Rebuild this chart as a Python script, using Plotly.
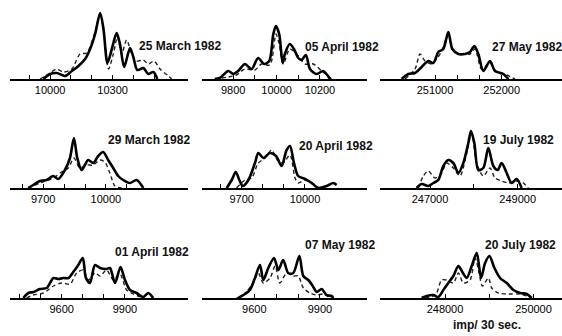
import plotly.graph_objects as go

W, H = 562, 336

# ---------- data (x: imp/30 sec, y: relative frequency, arbitrary units) ----------
titles = ["25 March 1982", "05 April 1982", "27 May 1982",
          "29 March 1982", "20 April 1982", "19 July 1982",
          "01 April 1982", "07 May 1982", "20 July 1982"]

p1_solid_x = [9968, 10000, 10032, 10072, 10104, 10136, 10168, 10192, 10216, 10240, 10256, 10275, 10296, 10319, 10335, 10355, 10383, 10399, 10418, 10447, 10471, 10495, 10514]
p1_solid_y = [0, 5, 6, 3, 8, 13, 20, 30, 45, 66, 50, 16, 30, 46, 35, 12, 31, 22, 9, 11, 5, 7, 0]
p1_dash_x = [9952, 10000, 10032, 10064, 10104, 10144, 10176, 10208, 10240, 10259, 10280, 10303, 10323, 10343, 10367, 10391, 10415, 10447, 10471, 10498, 10527, 10567, 10583]
p1_dash_y = [0, 6, 10, 7, 10, 25, 26, 42, 64, 45, 10, 25, 42, 25, 39, 25, 18, 19, 15, 18, 10, 3, 0]

p2_solid_x = [9715, 9738, 9777, 9800, 9823, 9854, 9885, 9915, 9942, 9966, 9985, 9997, 10012, 10028, 10038, 10061, 10080, 10100, 10115, 10135, 10154, 10185, 10215, 10246]
p2_solid_y = [0, 1, 8, 5, 8, 15, 10, 21, 15, 18, 45, 53, 45, 16, 25, 35, 30, 21, 19, 24, 10, 5, 8, 0]
p2_dash_x = [9715, 9777, 9815, 9854, 9900, 9931, 9969, 9997, 10012, 10031, 10061, 10092, 10131, 10169, 10208, 10254]
p2_dash_y = [0, 2, 4, 10, 9, 15, 14, 45, 35, 15, 30, 25, 15, 15, 8, 0]

p3_solid_x = [250500, 250600, 250700, 250800, 250900, 250975, 251050, 251125, 251200, 251260, 251350, 251450, 251525, 251590, 251650, 251725, 251825, 251900, 252025, 252100]
p3_solid_y = [0, 5, 6, 12, 18, 16, 27, 30, 47, 30, 25, 25, 27, 33, 25, 8, 18, 8, 5, 0]
p3_dash_x = [250550, 250700, 250775, 250850, 250950, 251025, 251100, 251200, 251275, 251400, 251525, 251600, 251700, 251825, 251925, 252075, 252200]
p3_dash_y = [0, 10, 25, 18, 15, 20, 28, 44, 28, 25, 25, 30, 10, 16, 7, 4, 0]

p4_solid_x = [9628, 9652, 9684, 9716, 9748, 9772, 9804, 9828, 9847, 9863, 9884, 9915, 9939, 9963, 9987, 10011, 10035, 10059, 10083, 10115, 10147, 10179]
p4_solid_y = [0, 3, 7, 8, 12, 9, 18, 30, 50, 30, 18, 28, 25, 32, 36, 28, 20, 12, 8, 5, 8, 0]
p4_dash_x = [9628, 9684, 9748, 9788, 9820, 9847, 9875, 9907, 9939, 9971, 9995, 10019, 10043, 10075]
p4_dash_y = [0, 5, 10, 16, 20, 30, 20, 23, 23, 28, 26, 15, 2, 0]

p5_solid_x = [9629, 9653, 9672, 9689, 9705, 9732, 9763, 9779, 9803, 9834, 9863, 9889, 9913, 9929, 9948, 9968, 10000, 10032, 10063, 10103, 10134, 10150]
p5_solid_y = [0, 8, 16, 8, 2, 8, 25, 35, 30, 35, 32, 22, 38, 42, 25, 12, 9, 5, 0, 2, 5, 3]
p5_dash_x = [9676, 9716, 9747, 9779, 9811, 9842, 9869, 9897, 9929, 9953, 9968, 10000, 10040, 10063]
p5_dash_y = [0, 8, 10, 25, 30, 38, 28, 25, 33, 10, 5, 8, 4, 0]

p6_solid_x = [246696, 246810, 246962, 247076, 247190, 247304, 247418, 247532, 247646, 247760, 247874, 247935, 248011, 248102, 248216, 248330, 248444, 248543, 248634, 248748, 248862, 248976, 249090]
p6_solid_y = [0, 4, 2, 5, 8, 22, 28, 25, 15, 25, 45, 57, 45, 18, 20, 40, 22, 18, 25, 15, 5, 9, 0]
p6_dash_x = [246734, 246848, 246962, 247114, 247266, 247380, 247532, 247684, 247813, 247950, 248064, 248216, 248368, 248482, 248634, 248786, 249014, 249128, 249242]
p6_dash_y = [0, 12, 17, 10, 15, 25, 20, 12, 30, 55, 25, 12, 20, 10, 7, 5, 7, 5, 0]

p7_solid_x = [9418, 9442, 9466, 9497, 9529, 9561, 9584, 9608, 9632, 9655, 9679, 9700, 9715, 9734, 9758, 9782, 9813, 9829, 9853, 9879, 9900, 9924, 9955, 9987, 10011, 10034]
p7_solid_y = [0, 5, 6, 9, 10, 20, 19, 20, 20, 26, 33, 40, 20, 15, 33, 30, 29, 30, 15, 31, 18, 8, 5, 1, 5, 0]
p7_dash_x = [9434, 9466, 9513, 9561, 9600, 9640, 9671, 9703, 9726, 9758, 9782, 9813, 9845, 9876, 9908, 9940, 9987]
p7_dash_y = [0, 3, 5, 12, 15, 14, 25, 28, 18, 25, 22, 28, 18, 24, 8, 4, 0]

p8_solid_x = [9527, 9557, 9580, 9603, 9626, 9641, 9664, 9690, 9710, 9732, 9755, 9778, 9806, 9824, 9847, 9867, 9885, 9908, 9930, 9953, 9961]
p8_solid_y = [0, 4, 8, 20, 33, 18, 30, 40, 28, 38, 25, 25, 42, 22, 18, 12, 6, 9, 3, 2, 0]
p8_dash_x = [9519, 9550, 9595, 9618, 9641, 9672, 9695, 9717, 9748, 9778, 9801, 9824, 9854, 9885, 9915, 9946]
p8_dash_y = [0, 3, 15, 25, 15, 20, 32, 15, 25, 22, 22, 10, 5, 3, 4, 0]

p9_solid_x = [247472, 247585, 247736, 247849, 247962, 248075, 248189, 248302, 248392, 248491, 248604, 248717, 248815, 248906, 249004, 249117, 249245, 249396, 249547, 249698, 249849, 249962]
p9_solid_y = [0, 2, 3, 1, 8, 15, 22, 32, 26, 20, 32, 45, 20, 35, 42, 30, 20, 15, 8, 5, 4, 0]
p9_dash_x = [247547, 247736, 247811, 247924, 248038, 248189, 248302, 248415, 248566, 248679, 248770, 248845, 248981, 249056, 249207, 249434, 249660, 249849, 249962]
p9_dash_y = [0, 2, 5, 18, 18, 15, 25, 15, 18, 40, 25, 12, 20, 10, 5, 4, 4, 2, 0]

# tick values / labels per panel
tick_vals = [
    [9900, 10000, 10100, 10200, 10300, 10400, 10500],
    [9800, 9900, 10000, 10100, 10200],
    [251000, 251333, 251667, 252000],
    [9600, 9700, 9800, 9900, 10000, 10100],
    [9600, 9700, 9800, 9900, 10000],
    [247000, 248000, 249000],
    [9400, 9500, 9600, 9700, 9800, 9900],
    [9600, 9700, 9800, 9900],
    [248000, 249000, 250000],
]
tick_text = [
    ["", "10000", "", "", "10300", "", ""],
    ["9800", "", "10000", "", "10200"],
    ["251000", "", "", "252000"],
    ["", "9700", "", "", "10000", ""],
    ["", "9700", "", "", "10000"],
    ["247000", "", "249000"],
    ["", "", "9600", "", "", "9900"],
    ["9600", "", "", "9900"],
    ["248000", "", "250000"],
]
x_ranges = [
    [9808, 10661], [9656, 10417], [250175, 252905],
    [9541, 10393], [9512, 10294], [245860, 250010],
    [9355, 10199], [9361, 10115], [246531, 250644],
]
unit_label = "imp/ 30 sec."

series = [
    (p1_solid_x, p1_solid_y, p1_dash_x, p1_dash_y),
    (p2_solid_x, p2_solid_y, p2_dash_x, p2_dash_y),
    (p3_solid_x, p3_solid_y, p3_dash_x, p3_dash_y),
    (p4_solid_x, p4_solid_y, p4_dash_x, p4_dash_y),
    (p5_solid_x, p5_solid_y, p5_dash_x, p5_dash_y),
    (p6_solid_x, p6_solid_y, p6_dash_x, p6_dash_y),
    (p7_solid_x, p7_solid_y, p7_dash_x, p7_dash_y),
    (p8_solid_x, p8_solid_y, p8_dash_x, p8_dash_y),
    (p9_solid_x, p9_solid_y, p9_dash_x, p9_dash_y),
]

# ---------- layout (pixels) ----------
col_px = [(10, 188), (202, 367), (380, 562)]
row_bottom_px = [79, 188, 298]
panel_h = 70
title_px = [(180, 46), (342, 47), (527, 47),
            (149, 140), (336, 146), (518, 140),
            (152, 252), (340, 245), (520, 245)]

FONT = "Liberation Sans, Arial, sans-serif"
fig = go.Figure()
layout = dict(width=W, height=H, margin=dict(l=0, r=0, t=0, b=0),
              paper_bgcolor="white", plot_bgcolor="white", showlegend=False)

annotations = []
for i, (sx, sy, dx, dy) in enumerate(series):
    r, c = divmod(i, 3)
    n = "" if i == 0 else str(i + 1)
    x0, x1 = col_px[c]
    yb = row_bottom_px[r]
    layout["xaxis" + n] = dict(
        domain=[x0 / W, x1 / W], range=x_ranges[i], anchor="y" + n,
        showline=True, linecolor="black", linewidth=2.2, showgrid=False, zeroline=False,
        ticks="inside", ticklen=4, tickwidth=1.3, tickcolor="black",
        tickvals=tick_vals[i], ticktext=tick_text[i],
        tickfont=dict(family=FONT, size=11, color="black"), ticklabelstandoff=0,
    )
    layout["yaxis" + n] = dict(
        domain=[(H - yb) / H, (H - yb + panel_h) / H], range=[0, panel_h],
        anchor="x" + n, visible=False, showgrid=False, zeroline=False,
    )
    fig.add_trace(go.Scatter(x=dx, y=dy, mode="lines", xaxis="x" + n, yaxis="y" + n,
                             line=dict(color="#222", width=1.4, dash="4px,3px", shape="spline", smoothing=0.8)))
    fig.add_trace(go.Scatter(x=sx, y=sy, mode="lines", xaxis="x" + n, yaxis="y" + n,
                             line=dict(color="black", width=2.6, shape="spline", smoothing=0.8)))
    tx, ty = title_px[i]
    annotations.append(dict(text="<b>" + titles[i] + "</b>", x=tx / W, y=(H - ty) / H,
                            xref="paper", yref="paper", xanchor="center", yanchor="middle",
                            showarrow=False, font=dict(family=FONT, size=12, color="#111")))

annotations.append(dict(text="<b>" + unit_label + "</b>", x=487 / W, y=(H - 325) / H,
                        xref="paper", yref="paper", xanchor="center", yanchor="middle",
                        showarrow=False, font=dict(family=FONT, size=12, color="#111")))
layout["annotations"] = annotations
fig.update_layout(**layout)
fig.write_html("out.html")
